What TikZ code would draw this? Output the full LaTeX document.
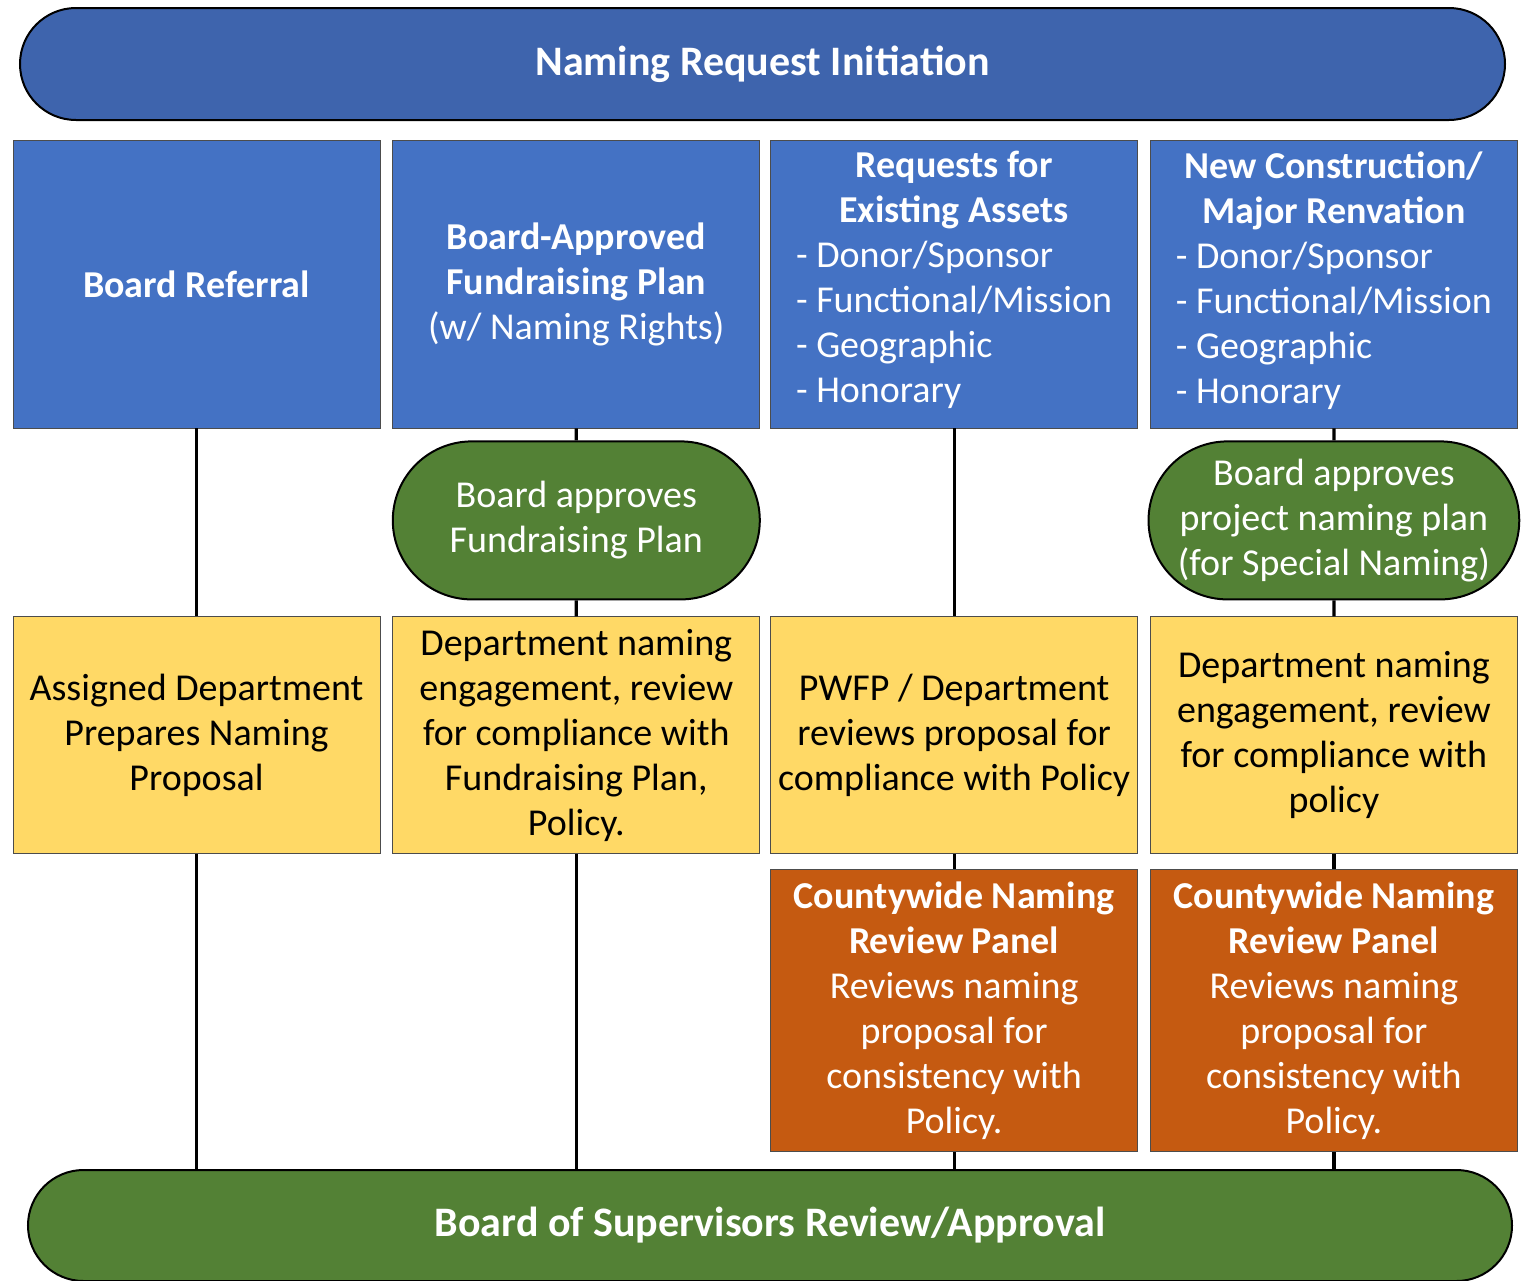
\documentclass[tikz,border=0pt]{standalone}
\usepackage{fontspec}
\setmainfont{Carlito}
\usetikzlibrary{positioning,shapes.misc}
\definecolor{barblue}{HTML}{3E64AD}
\definecolor{boxblue}{HTML}{4472C4}
\definecolor{leafgreen}{HTML}{538135}
\definecolor{paleyellow}{HTML}{FFD966}
\definecolor{rust}{HTML}{C55A11}
\newcommand{\kinds}{\begin{tabular}[t]{@{}l@{}}- Donor/Sponsor\\- Functional/Mission\\- Geographic\\- Honorary\end{tabular}}

\begin{document}
\begin{tikzpicture}[x=0.5pt,y=-0.5pt,
  every node/.style={font=\fontsize{19}{22.5}\selectfont, align=center, inner sep=0pt},
  bar/.style={rounded rectangle, draw=black, line width=1pt, text=white, font=\fontsize{21}{22.5}\selectfont\bfseries},
  head/.style={rectangle, draw=gray!60!black, line width=0.4pt, fill=boxblue, text=white, minimum width=183.5pt, minimum height=144pt},
  vote/.style={rounded rectangle, draw=black, line width=1pt, fill=leafgreen, text=white, minimum width=183.5pt, minimum height=79pt},
  work/.style={rectangle, draw=gray!60!black, line width=0.4pt, fill=paleyellow, minimum width=183.5pt, minimum height=118.5pt},
  panel/.style={rectangle, draw=gray!60!black, line width=0.4pt, fill=rust, text=white, minimum width=183.5pt, minimum height=141pt},
  link/.style={line width=1.6pt}]
  \useasboundingbox (0,0) rectangle (1521,1280);

  \node[bar, fill=barblue, minimum width=742.5pt, minimum height=56pt] (start) at (762.5,64) {Naming Request Initiation};

  % request types
  \node[head] (b1) at (196.5,284) {\textbf{Board Referral}};
  \node[head] (b2) [right=6pt of b1] {\textbf{Board-Approved}\\\textbf{Fundraising Plan}\\(w/ Naming Rights)};
  \node[head] (b3) [right=5pt of b2] {\textbf{Requests for}\\\textbf{Existing Assets}\\\kinds};
  \node[head] (b4) [right=6pt of b3] {\textbf{New Construction/}\\\textbf{Major Renvation}\\\kinds};

  \node[vote] (g2) [below=6pt of b2] {Board approves\\Fundraising Plan};
  \node[vote] (g4) [below=6pt of b4] {Board approves\\project naming plan\\(for Special Naming)};

  % department work
  \node[work] (y1) [below=94pt of b1] {Assigned Department\\Prepares Naming\\Proposal};
  \node[work] (y2) [right=6pt of y1] {Department naming\\engagement, review\\for compliance with\\Fundraising Plan,\\Policy.};
  \node[work] (y3) [right=5pt of y2] {PWFP / Department\\reviews proposal for\\compliance with Policy};
  \node[work] (y4) [right=6pt of y3] {Department naming\\engagement, review\\for compliance with\\policy};

  \node[panel] (o3) [below=7.5pt of y3] {\textbf{Countywide Naming}\\\textbf{Review Panel}\\Reviews naming\\proposal for\\consistency with\\Policy.};
  \node[panel] (o4) [right=6pt of o3] {\textbf{Countywide Naming}\\\textbf{Review Panel}\\Reviews naming\\proposal for\\consistency with\\Policy.};

  \node[bar, fill=leafgreen, minimum width=742pt, minimum height=55.5pt] (end) at (770,1225.5) {Board of Supervisors Review/Approval};

  \draw[link] (b1) -- (y1);
  \draw[link] (y1) -- (y1 |- end.north);
  \draw[link] (b2) -- (g2);
  \draw[link] (g2) -- (y2);
  \draw[link] (y2) -- (y2 |- end.north);
  \draw[link] (b3) -- (y3);
  \draw[link] (y3) -- (o3);
  \draw[link] (o3) -- (o3 |- end.north);
  \draw[link] (b4) -- (g4);
  \draw[link] (g4) -- (y4);
  \draw[link] (y4) -- (o4);
  \draw[link] (o4) -- (o4 |- end.north);
\end{tikzpicture}
\end{document}
